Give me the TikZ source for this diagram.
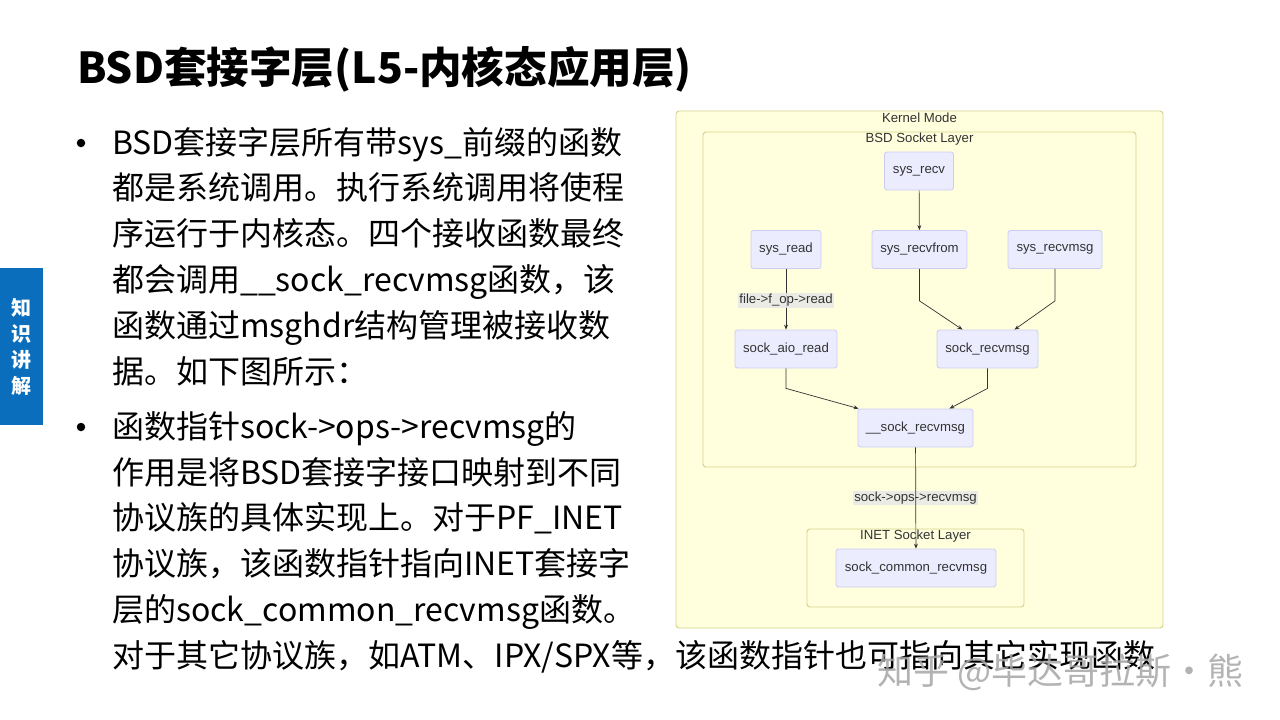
\documentclass[tikz,border=0pt]{standalone}
\usepackage{fontspec}
\newfontfamily\cjk{Noto Sans CJK SC}
\newfontfamily\diag{Liberation Sans}
\usetikzlibrary{arrows.meta}
\definecolor{nodefill}{HTML}{ECECFF}
\definecolor{nodedraw}{HTML}{CCCCF2}
\definecolor{clfill}{HTML}{FFFFDE}
\definecolor{cldraw}{HTML}{D2D28A}
\definecolor{tabblue}{HTML}{0A6EBD}
\definecolor{lblbg}{HTML}{E8E8E8}
\definecolor{txt}{HTML}{333333}
\tikzset{
  body/.style={anchor=base west, inner sep=0pt, font=\cjk\fontsize{32}{32}\selectfont},
  dot/.style={circle, fill=black, inner sep=0pt, minimum size=8.5pt},
  fn/.style={draw=nodedraw, fill=nodefill, rounded corners=2.5pt, line width=0.8pt,
     inner sep=0pt, minimum height=38pt, font=\diag\fontsize{13.2}{14}\selectfont, text=txt},
  cluster/.style={draw=cldraw, fill=clfill, rounded corners=3pt, line width=0.9pt},
  cltitle/.style={font=\diag\fontsize{13.2}{13}\selectfont, text=txt, inner sep=1pt},
  edge/.style={draw=txt, line width=0.7pt, -{Stealth[length=5pt,width=4pt]}},
  elabel/.style={fill=lblbg, fill opacity=0.85, text opacity=1, inner sep=1pt,
     font=\diag\fontsize{13.2}{13}\selectfont, text=txt},
}
\begin{document}
\begin{tikzpicture}[x=1pt,y=-1pt]
\useasboundingbox (0,0) rectangle (1280,720);
\fill[white] (0,0) rectangle (1280,720);

% title
\node[anchor=base west, inner sep=0pt, font=\cjk\bfseries\fontsize{42.6}{42}\selectfont] (title) at (77,83) {BSD套接字层(L5-内核态应用层)};

% side tab
\fill[tabblue] (0,268) rectangle (43,425);
\node[text=white, font=\cjk\bfseries\fontsize{20}{20}\selectfont, align=center, inner sep=0pt] (tab) at (21,347)
  {知\\[6pt]识\\[6pt]讲\\[6pt]解};

% bullets
\node[dot] (b1) at (81,143) {};
\node[dot] (b2) at (81,427) {};
\node[body] (l1) at (112,154) {BSD套接字层所有带sys\_前缀的函数};
\node[body] (l2) at (112,199) {都是系统调用。执行系统调用将使程};
\node[body] (l3) at (112,245) {序运行于内核态。四个接收函数最终};
\node[body] (l4) at (112,291) {都会调用\_\_sock\_recvmsg函数，该};
\node[body] (l5) at (112,337) {函数通过msghdr结构管理被接收数};
\node[body] (l6) at (112,383) {据。如下图所示：};
\node[body] (l7) at (112,438) {函数指针sock->ops->recvmsg的};
\node[body] (l8) at (112,484) {作用是将BSD套接字接口映射到不同};
\node[body] (l9) at (112,529) {协议族的具体实现上。对于PF\_INET};
\node[body] (l10) at (112,575) {协议族，该函数指针指向INET套接字};
\node[body] (l11) at (112,621) {层的sock\_common\_recvmsg函数。};
\node[body] (l12) at (112,667) {对于其它协议族，如ATM、IPX/SPX等，该函数指针也可指向其它实现函数};

% clusters
\draw[cluster] (676,111) rectangle (1163,628);
\node[cltitle] (kmode) at (919.5,118) {Kernel Mode};
\draw[cluster] (703,132) rectangle (1136,467);
\node[cltitle] (bsdl) at (919.5,139.5) {BSD Socket Layer};
\draw[cluster] (807,529) rectangle (1024,607);
\node[cltitle] (inetl) at (915.5,536.5) {INET Socket Layer};

% nodes
\node[fn, minimum width=69pt] (sysrecv) at (919,171) {sys\_recv};
\node[fn, minimum width=70pt] (sysread) at (786,249.5) {sys\_read};
\node[fn, minimum width=95pt] (sysrecvfrom) at (919.5,249.5) {sys\_recvfrom};
\node[fn, minimum width=94pt] (sysrecvmsg) at (1055,249.5) {sys\_recvmsg};
\node[fn, minimum width=102pt] (sockaio) at (786,349) {sock\_aio\_read};
\node[fn, minimum width=101pt] (sockrecvmsg) at (987.5,349) {sock\_recvmsg};
\node[fn, minimum width=115pt] (usockrecvmsg) at (915.5,428) {\_\_sock\_recvmsg};
\node[fn, minimum width=160pt] (commonrecv) at (916,568) {sock\_common\_recvmsg};

% edges
\draw[edge] (sysrecv) -- (sysrecvfrom);
\draw[edge] (sysread) -- node[elabel, pos=0.52] (lblread) {file->f\_op->read} (sockaio);
\draw[edge] (sysrecvfrom.south) -- ++(0,32) -- ([xshift=-25pt]sockrecvmsg.north);
\draw[edge] (sysrecvmsg.south) -- ++(0,32) -- ([xshift=27pt]sockrecvmsg.north);
\draw[edge] (sockaio.south) -- ++(0,20) -- ([xshift=1pt]usockrecvmsg.north west);
\draw[edge] (sockrecvmsg.south) -- ++(0,20) -- ([xshift=34pt]usockrecvmsg.north);
\node[elabel] (lblops) at (915.5,498) {sock->ops->recvmsg};
\draw[edge] (usockrecvmsg) -- (commonrecv);

% watermark
\node[anchor=west, inner sep=0pt, text=gray!70, text opacity=0.85, font=\cjk\fontsize{36}{36}\selectfont] (wm) at (877,672) {知乎 @毕达哥拉斯·熊};
\end{tikzpicture}
\end{document}
